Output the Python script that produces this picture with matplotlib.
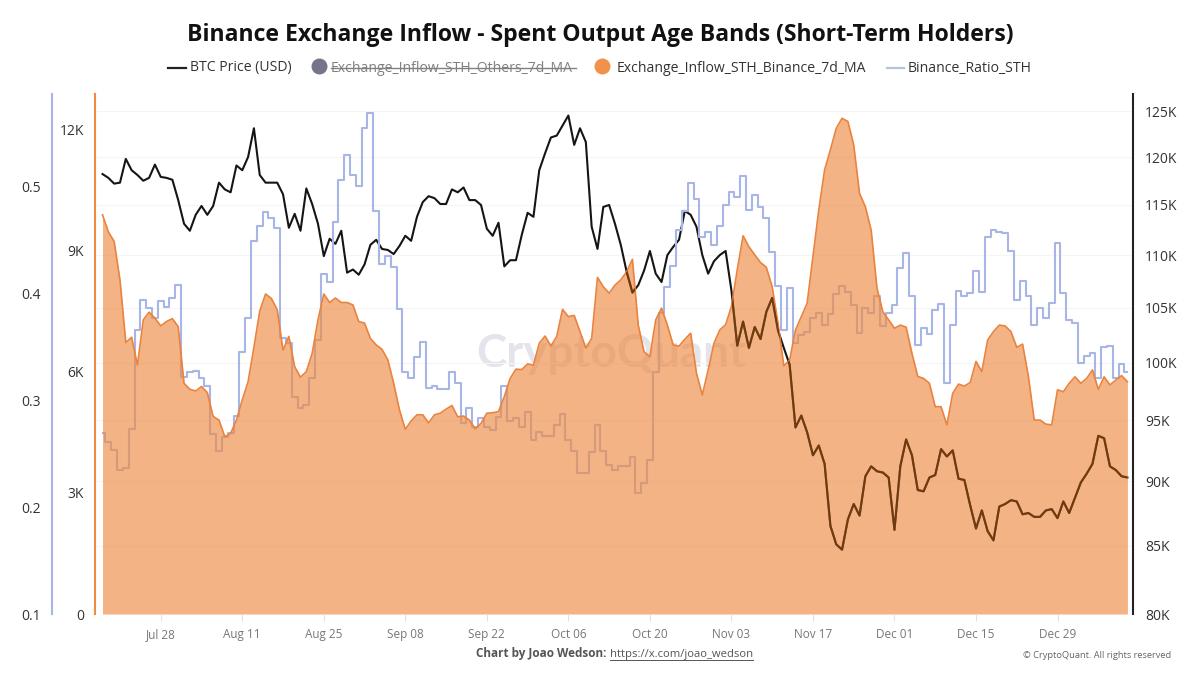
import matplotlib
matplotlib.use("Agg")
import matplotlib.pyplot as plt
import matplotlib.dates as mdates
import pandas as pd
from matplotlib.lines import Line2D
from matplotlib.ticker import FixedLocator, FixedFormatter, NullLocator

plt.rcParams["font.family"] = ["Open Sans", "DejaVu Sans"]

# BTC price, thousands of USD, one value per day from 18 Jul
btc_price = [
    118.2, 117.8, 117.2, 117.3, 119.8, 118.6, 118.1, 117.5, 117.8, 119.2,
    117.9, 117.8, 117.6, 115.5, 113.1, 112.4, 114.0, 114.9, 114.0, 114.9,
    117.3, 116.6, 116.3, 119.1, 118.6, 120.0, 123.1, 118.1, 117.3, 117.3,
    117.3, 116.1, 112.7, 114.1, 112.4, 116.7, 115.1, 113.1, 109.9, 111.6,
    111.1, 112.4, 108.3, 108.6, 108.1, 109.1, 111.0, 111.5, 110.6, 110.5,
    110.1, 110.9,
    111.9, 111.4, 113.8, 115.3, 115.9, 115.7, 115.1, 115.1, 116.6, 116.3,
    116.8, 115.5, 115.5, 115.0, 112.6, 111.9, 113.2, 108.9, 109.5, 109.5,
    112.0, 114.2, 113.8, 118.6, 120.4, 122.1, 122.3, 123.4, 124.5, 121.3,
    123.1, 121.6, 112.8, 110.6, 114.8, 115.0, 113.1, 111.0, 108.4, 106.4,
    107.1, 108.5, 110.4, 108.2, 107.4, 110.0, 110.8, 111.5, 114.4, 114.0,
    112.8, 110.0, 108.2, 109.4, 110.0, 110.4, 106.6, 101.5, 103.7, 101.3,
    103.2, 102.1, 104.6, 105.9, 102.9, 101.3, 99.8,
    94.4, 95.4, 94.0, 92.1, 92.9, 91.4, 86.5, 85.1, 84.7, 87.0,
    88.2, 87.3, 90.4, 91.2, 90.8, 90.7, 90.3, 86.2, 91.2, 93.4,
    92.1, 89.3, 89.2, 90.3, 90.5, 92.6, 92.0, 92.5, 90.2, 90.1,
    88.1, 86.3, 87.7, 86.1, 85.4, 88.0, 88.2, 88.5, 88.4, 87.4,
    87.5, 87.2, 87.2, 87.7, 87.8, 87.1, 88.4, 87.5, 88.7, 89.9,
    90.6, 91.4, 93.7, 93.5, 91.2, 90.9, 90.4, 90.3,
]

# exchange inflow, thousands
binance_inflow = [
    9.88, 9.46, 9.22, 8.27, 6.72, 6.85, 6.16, 7.28, 7.47, 7.32,
    7.13, 7.24, 7.31, 7.11, 5.71, 5.56, 5.52, 5.63, 5.48, 4.89,
    4.80, 4.39, 4.47, 4.80, 5.30, 5.75, 6.60, 7.50, 7.92, 7.81,
    7.53, 6.53, 6.87, 6.12, 5.86, 6.00, 6.45, 7.28, 7.92, 7.71,
    7.82, 7.71, 7.71, 7.65, 7.24, 7.20, 6.82, 6.66, 6.55, 6.29,
    5.71, 5.05, 4.57,
    4.78, 4.93, 4.93, 4.73, 4.93, 4.97, 5.07, 5.16, 4.88, 4.90,
    4.80, 4.58, 4.72, 4.97, 4.98, 5.01, 5.38, 5.83, 6.06, 6.05,
    6.19, 6.16,
    6.70, 6.88, 6.63, 6.87, 7.54, 7.36, 7.39, 6.99, 6.58, 6.82,
    8.33, 8.10, 7.94, 8.14, 8.27, 8.47, 8.78, 7.15, 6.49, 6.37,
    7.28, 7.57, 7.15, 6.66, 6.63, 6.80, 6.95, 5.96, 5.42, 6.04,
    6.70, 7.03, 7.16, 7.61, 8.52, 9.36, 9.09, 8.89, 8.70, 8.58,
    8.10, 7.20, 6.14, 6.29, 7.03, 7.36, 7.69,
    8.85, 10.0, 10.99, 11.49, 12.02, 12.27, 12.19, 11.61, 10.41, 10.08,
    9.50, 8.06, 7.48, 7.28, 7.07, 7.15, 7.10, 6.45, 5.88, 5.83,
    5.71,
    5.13, 5.13, 4.68, 5.46, 5.69, 5.64, 5.73, 6.25, 6.00, 6.78,
    6.99, 7.15, 7.13, 6.99, 6.60, 6.68, 5.88, 4.80, 4.80, 4.70,
    4.68, 5.55, 5.50, 5.71, 5.87, 5.71, 5.83, 6.04, 5.56, 5.87,
    5.67, 5.79, 5.90, 5.75,
]

binance_ratio = [
    .2694, .2604, .2532, .2345, .2361, .2725, .3654, .3934, .3856, .3763,
    .3925, .3872, .3950, .4074, .3218, .3264, .3271, .3208, .3130, .2682,
    .2526, .2657, .2688, .2850, .3445, .3769, .4486, .4629, .4760, .4704,
    .4610, .3576, .3530, .3031, .2928, .2953, .3202, .3561, .4177, .4106,
    .4667, .5056, .5290, .5103, .5000, .5539, .5685, .4769, .4268, .4346,
    .4240, .3847,
    .3265, .3203, .3399, .3545, .3109, .3134, .3100, .3100, .3259, .3156,
    .2782, .2922, .2751, .2835, .2751, .2720, .2845, .3134, .2804, .2829,
    .2751, .2891, .2627, .2698, .2667, .2664, .2767, .2870, .2627, .2524,
    .2315, .2315, .2517, .2767, .2527, .2393, .2346, .2387, .2387, .2465,
    .2128, .2222, .2440, .3265,
    .3810, .4059, .4255, .4589, .4769, .5031, .4878, .4526, .4573, .4449,
    .4626, .4822, .4941, .4900, .5096, .4776, .4913, .4801, .4698, .4386,
    .4068,
    .3654, .4044, .3536, .3607, .3632, .3763, .3816, .3701, .3804, .3991,
    .4069, .4012, .3888, .3623, .3857, .3816, .3972, .3692, .3810, .3888,
    .4237, .4377, .3972, .3514, .3670, .3614, .3841, .3897, .3162, .3701,
    .4022, .3972, .3997, .4209, .4006, .4526, .4589, .4573, .4558, .4396,
    .3935, .4115, .3975, .3701, .3857, .3769, .3910, .4470, .3997, .3748,
    .3717, .3343, .3414, .3436, .3203, .3492, .3508, .3203, .3333, .3259,
]

start_date = "2025-07-18"
x_ticks = pd.date_range("2025-07-28", "2025-12-29", freq="14D")
price_ticks = [80, 85, 90, 95, 100, 105, 110, 115, 120, 125]
inflow_ticks = [0, 3, 6, 9, 12]
ratio_ticks = [0.1, 0.2, 0.3, 0.4, 0.5]

ORANGE = "#ee8a42"
BLUE = "#a7b6e6"
W, H = 1200, 675

dates = pd.date_range(start_date, periods=len(btc_price), freq="D")

fig = plt.figure(figsize=(W / 100, H / 100), dpi=100, facecolor="white")
ax = fig.add_axes([95 / W, 1 - 614 / H, (1133 - 95) / W, (614 - 94) / H])
ax_ratio = ax.twinx()
ax_price = ax.twinx()

# the fill has to sit over the other two lines, they show through it
ax_price.set_zorder(1)
ax_ratio.set_zorder(2)
ax.set_zorder(3)
for a in (ax, ax_ratio):
    a.patch.set_visible(False)

# watermark
ax_price.text(0.497, 0.5, "CryptoQuant", transform=ax_price.transAxes, fontsize=33, family="Lato",
              color="#e3e4ec", ha="center", va="center", fontweight="bold", zorder=0)

# series
ax_price.plot(dates, btc_price, color="#151515", lw=1.5, zorder=3)
ax_ratio.step(dates, binance_ratio, where="mid", color=BLUE, lw=1.5)
fill = ax.fill_between(dates, 0, binance_inflow, color=ORANGE, alpha=0.65, lw=0)
ax.plot(dates, binance_inflow, color="#e9833d", lw=1.2)

# scales
ax.set_xlim(dates[0] - pd.Timedelta(days=1.29), dates[0] + pd.Timedelta(days=176.96))
ax.set_ylim(0, 12.87)
ax_ratio.set_ylim(0.1, 0.586)
ax_price.set_yscale("log")
ax_price.set_ylim(80, 126.9)

# price line goes dark brown where it runs under the fill
under_fill = Line2D(mdates.date2num(dates), btc_price, color="#6e3a12", lw=1.5, transform=ax_price.transData)
fig.add_artist(under_fill)
under_fill.set_zorder(5)
under_fill.set_clip_path(fill.get_paths()[0], ax.transData)

# price axis, right
ax_price.yaxis.set_major_locator(FixedLocator(price_ticks))
ax_price.yaxis.set_major_formatter(FixedFormatter([f"{t}K" for t in price_ticks]))
ax_price.yaxis.set_minor_locator(NullLocator())
ax_price.tick_params(axis="y", length=0, pad=8.6, labelsize=10, labelcolor="#333333")
ax_price.grid(axis="y", color="#f5f5f5", lw=0.8)
ax_price.set_axisbelow(True)

# inflow axis, left
ax.set_yticks(inflow_ticks)
ax.set_yticklabels(["0", "3K", "6K", "9K", "12K"])
ax.tick_params(axis="y", length=0, pad=8, labelsize=10, labelcolor="#333333")

# ratio axis, further left
ax_ratio.yaxis.set_ticks_position("left")
ax_ratio.spines["left"].set_position(("outward", 31))
ax_ratio.set_yticks(ratio_ticks)
ax_ratio.set_yticklabels([f"{t:.1f}" for t in ratio_ticks])
ax_ratio.tick_params(axis="y", length=0, pad=8, labelsize=10, labelcolor="#333333")

for a in (ax, ax_ratio, ax_price):
    for s in a.spines.values():
        s.set_visible(False)
ax.spines["left"].set_visible(True)
ax.spines["left"].set_color(ORANGE)
ax.spines["left"].set_linewidth(1.5)
ax_ratio.spines["left"].set_visible(True)
ax_ratio.spines["left"].set_color(BLUE)
ax_ratio.spines["left"].set_linewidth(1.5)
ax_price.spines["right"].set_visible(True)
ax_price.spines["right"].set_color("#222222")
ax_price.spines["right"].set_linewidth(1.5)

# date axis
ax.set_xticks(x_ticks)
ax.xaxis.set_major_formatter(mdates.DateFormatter("%b %d"))
ax.tick_params(axis="x", length=5, width=0.8, color="#e2e2e2", pad=5, labelsize=8.5, labelcolor="#777777")
for a in (ax_ratio, ax_price):
    a.tick_params(axis="x", length=0, labelbottom=False)


def px_text(x, y, s, **kw):
    kw.setdefault("va", "center")
    return fig.text(x / W, 1 - y / H, s, **kw)


def px_line(x0, x1, y, **kw):
    fig.add_artist(Line2D([x0 / W, x1 / W], [1 - y / H, 1 - y / H], transform=fig.transFigure, **kw))


def px_dot(x, y, color):
    fig.add_artist(Line2D([x / W], [1 - y / H], transform=fig.transFigure, marker="o", ms=11.5,
                          mfc=color, mec="none", ls="none"))


# title and hand made legend, one entry is switched off in the original
px_text(600, 35, "Binance Exchange Inflow - Spent Output Age Bands (Short-Term Holders)",
        ha="center", fontsize=16.6, fontweight="bold", color="#111111")

px_line(168, 186, 68, color="#222222", lw=1.6)
px_text(190, 68, "BTC Price (USD)", fontsize=10.1, color="#333333")
px_dot(319, 66, "#74748a")
px_text(331, 68, "Exchange_Inflow_STH_Others_7d_MA", fontsize=10.1, color="#808080")
px_line(331, 576, 68, color="#808080", lw=1)
px_dot(602, 66, "#f0924c")
px_text(617, 68, "Exchange_Inflow_STH_Binance_7d_MA", fontsize=10.1, color="#333333")
px_line(887, 904, 68, color="#b4c2e4", lw=1.6)
px_text(908, 68, "Binance_Ratio_STH", fontsize=10.1, color="#333333")

# footer
px_text(476, 654, "Chart by Joao Wedson:", fontsize=8.5, fontweight="bold", color="#555555")
px_text(610, 654, "https://x.com/joao_wedson", fontsize=8.1, color="#555555")
px_line(610, 753, 660, color="#555555", lw=0.7)
px_text(1171, 655, "© CryptoQuant. All rights reserved", ha="right", fontsize=6.7, color="#666666")

fig.savefig("out.png", dpi=100, facecolor="white")
